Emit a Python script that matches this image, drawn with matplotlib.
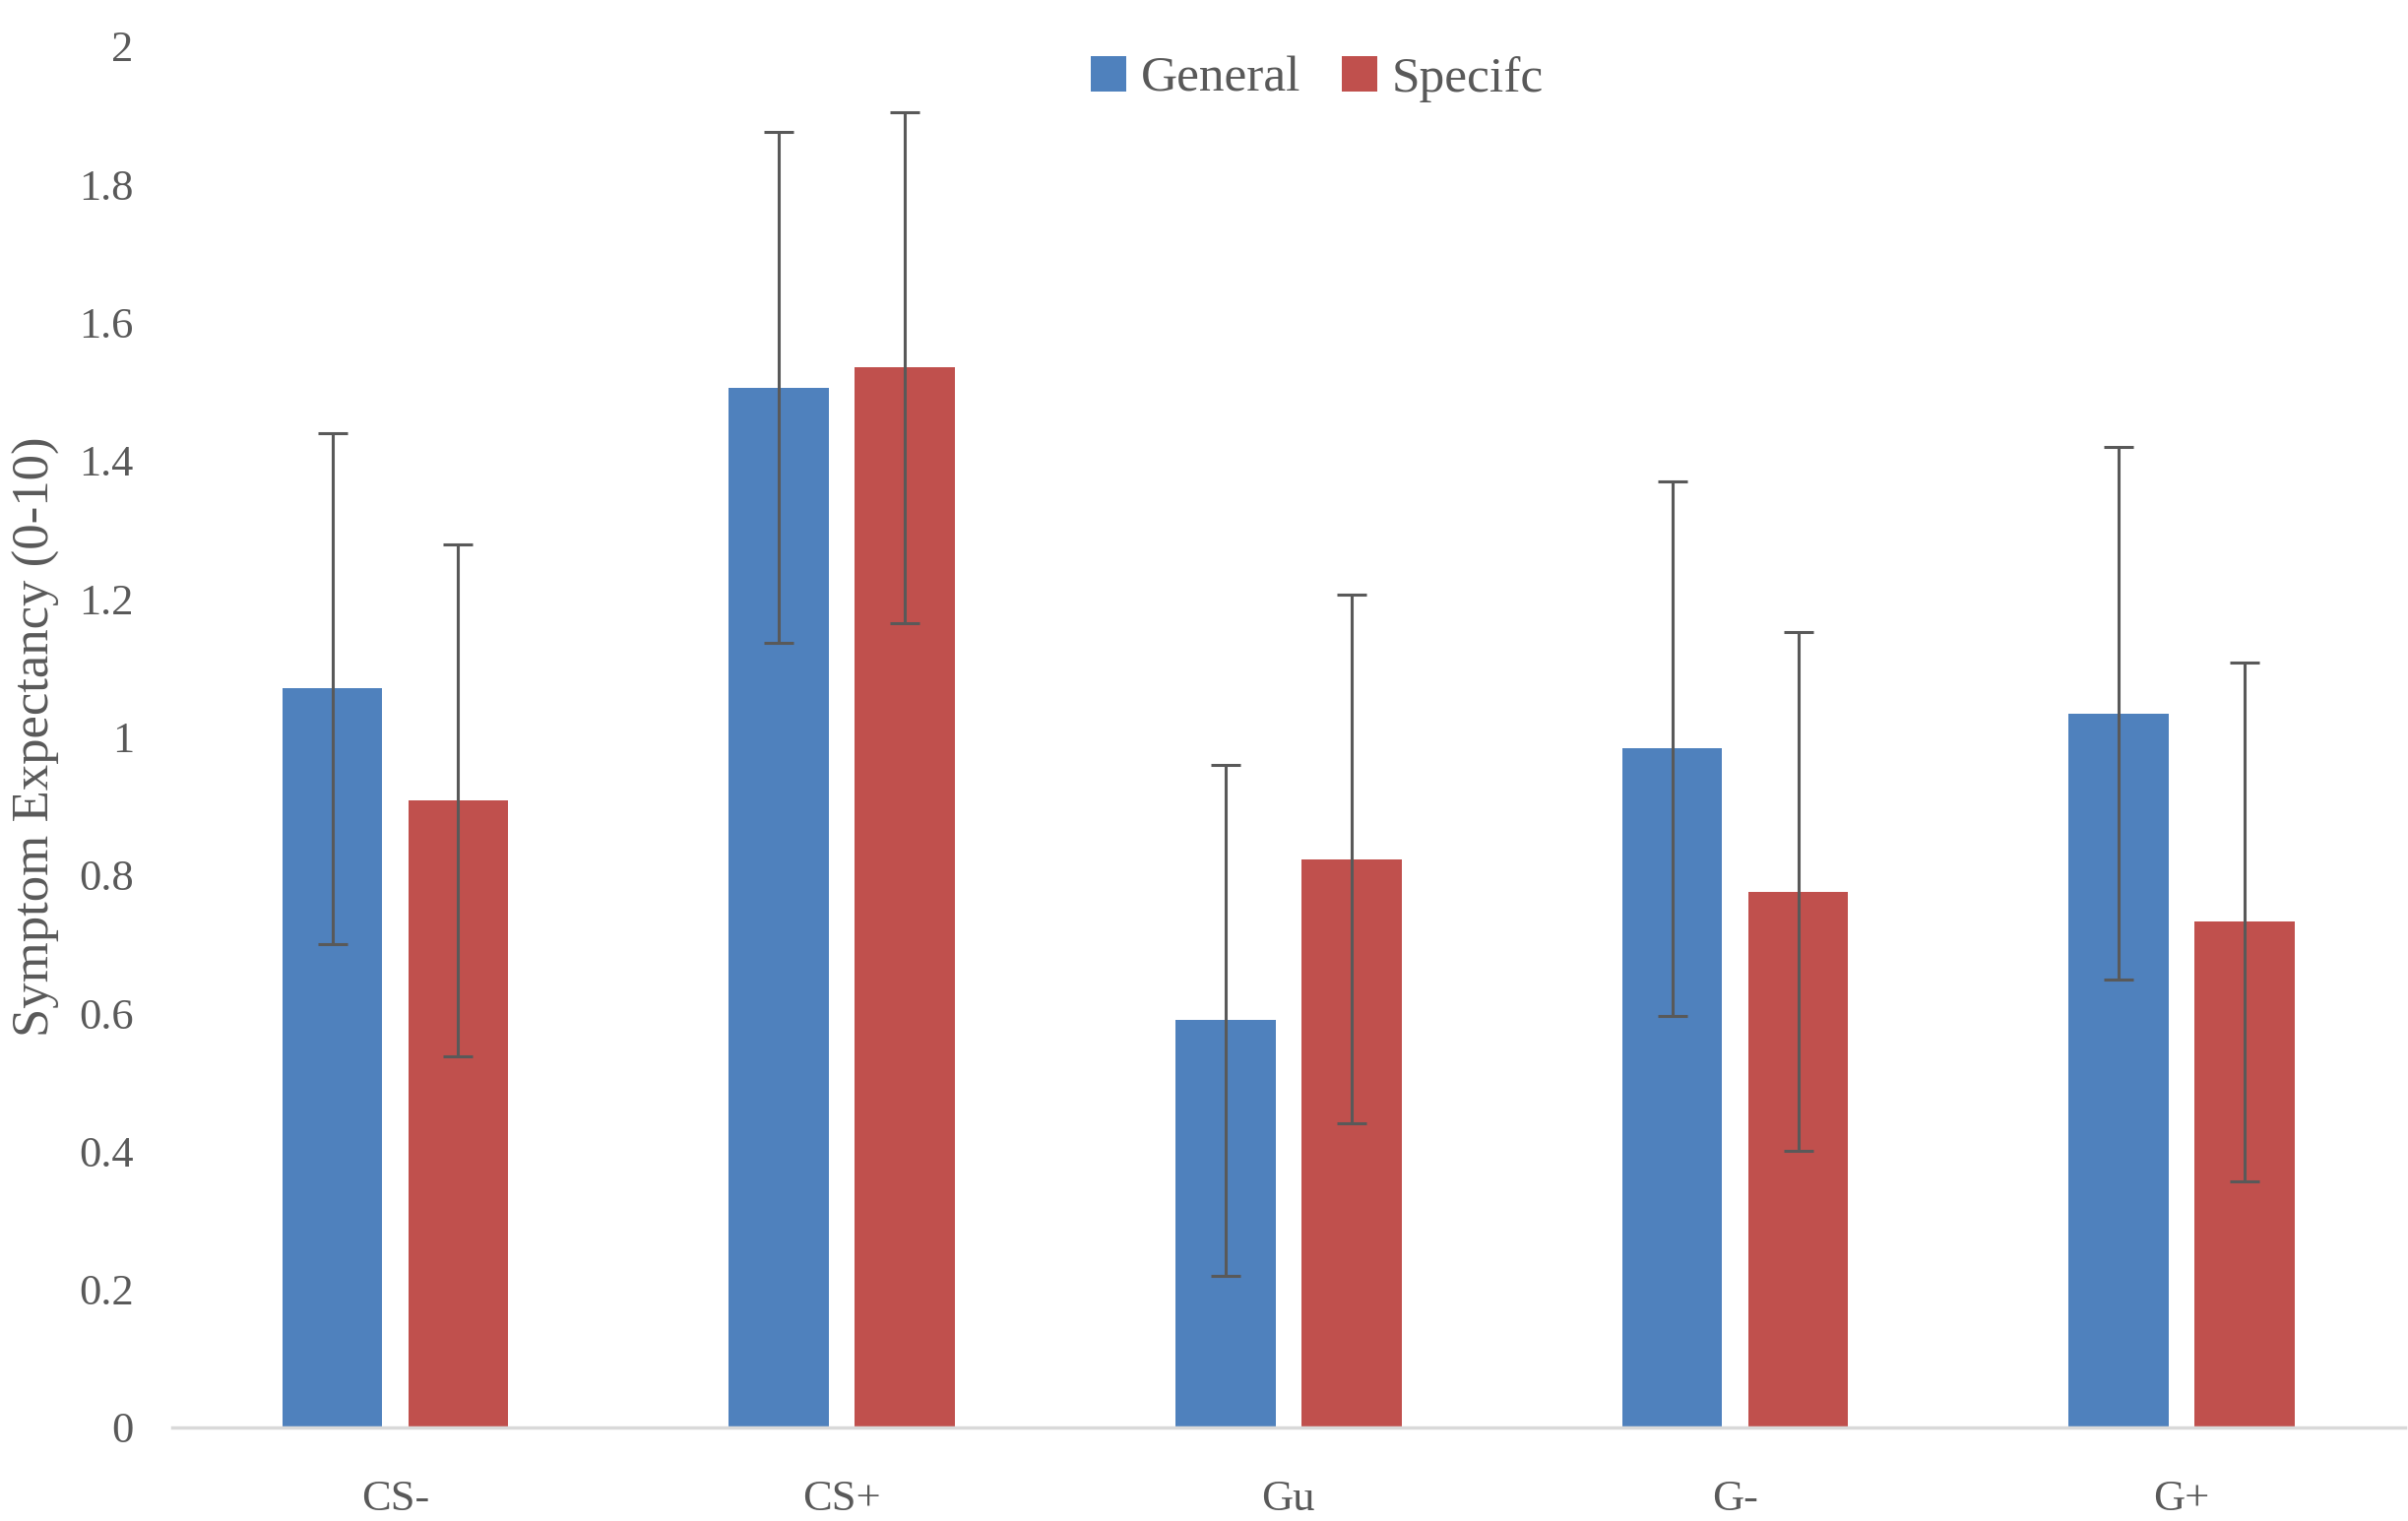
import numpy as np
import matplotlib.pyplot as plt
from matplotlib.ticker import FuncFormatter

# data
categories = ["CS-", "CS+", "Gu", "G-", "G+"]
general = [1.07, 1.506, 0.590, 0.983, 1.034]
general_err = [0.37, 0.37, 0.37, 0.387, 0.386]
specific = [0.908, 1.535, 0.823, 0.776, 0.732]
specific_err = [0.371, 0.37, 0.383, 0.376, 0.376]
y_ticks = [0, 0.2, 0.4, 0.6, 0.8, 1.0, 1.2, 1.4, 1.6, 1.8, 2.0]

blue = "#4F81BD"
red = "#C0504D"
txt = "#595959"

plt.rcParams['font.family'] = ['Liberation Serif', 'DejaVu Serif']

fig = plt.figure(figsize=(24.46, 15.45), dpi=100)
ax = fig.add_axes([0.0714, 0.0615, 0.9274, 0.9081])

x = np.arange(len(categories))
w = 0.224
off = 0.141
ekw = dict(ecolor="#595959", elinewidth=2.2, capsize=11, capthick=2.2)

ax.bar(x - off, general, w, color=blue, label="General",
       yerr=general_err, error_kw=ekw)
ax.bar(x + off, specific, w, color=red, label="Specifc",
       yerr=specific_err, error_kw=ekw)

ax.set_xlim(-0.5, len(categories) - 0.5)
ax.set_ylim(0, 2)
ax.set_yticks(y_ticks)
ax.yaxis.set_major_formatter(FuncFormatter(lambda v, p: "%g" % v))
ax.set_xticks(x)
ax.set_xticklabels(categories)
ax.tick_params(axis="both", length=0, labelsize=32, colors=txt)
ax.tick_params(axis="y", pad=28)
ax.tick_params(axis="x", pad=38)

for s in ["top", "right", "left"]:
    ax.spines[s].set_visible(False)
ax.spines["bottom"].set_color("#D9D9D9")
ax.spines["bottom"].set_linewidth(2.5)

ax.set_ylabel("Symptom Expectancy (0-10)", fontsize=38, color=txt, labelpad=14)

leg = fig.legend(loc="center", bbox_to_anchor=(0.547, 0.948), ncol=2, frameon=False,
                 fontsize=37, handlelength=0.7, handleheight=0.7,
                 handletextpad=0.3, columnspacing=0.8)
for t in leg.get_texts():
    t.set_color(txt)

fig.savefig("out.png", dpi=100)
